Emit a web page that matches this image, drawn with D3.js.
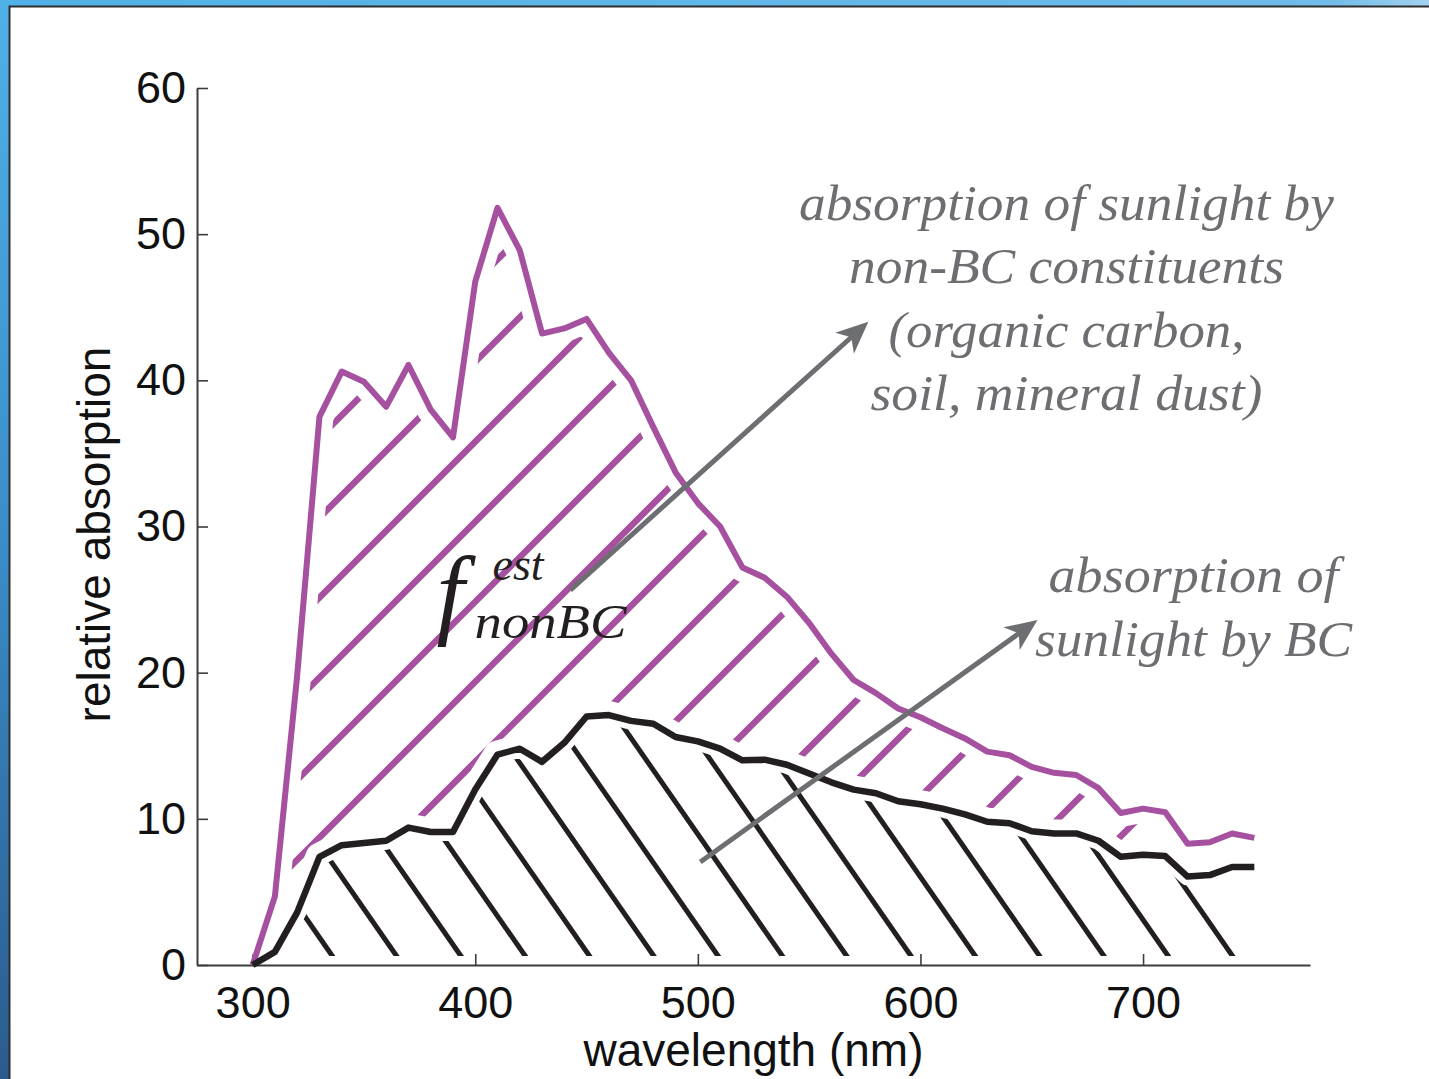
<!DOCTYPE html>
<html>
<head>
<meta charset="utf-8">
<script src="https://cdn.jsdelivr.net/npm/d3@7"></script>
<style>
  html, body { margin: 0; padding: 0; background: #fff; overflow: hidden; }
  svg { display: block; }
</style>
</head>
<body>
<div id="chart"></div>
<script>
const width = 1429;
const height = 1079;

// data (10 nm steps)
const wavelength = [300, 310, 320, 330, 340, 350, 360, 370, 380, 390,
                    400, 410, 420, 430, 440, 450, 460, 470, 480, 490,
                    500, 510, 520, 530, 540, 550, 560, 570, 580, 590,
                    600, 610, 620, 630, 640, 650, 660, 670, 680, 690,
                    700, 710, 720, 730, 740, 750];
// total absorption (purple)
const totalAbs = [0, 4.7, 19.8, 37.5, 40.6, 39.9, 38.2, 41.05, 38.0, 36.1,
                  46.75, 51.8, 48.9, 43.2, 43.55, 44.2, 41.9, 40.0, 36.8, 33.7,
                  31.6, 30.0, 27.2, 26.5, 25.2, 23.4, 21.3, 19.5, 18.6, 17.55,
                  16.95, 16.2, 15.5, 14.6, 14.35, 13.55, 13.15, 13.0, 12.1, 10.4,
                  10.7, 10.45, 8.3, 8.4, 9.0, 8.7];
// BC absorption (black)
const bcAbs = [0, 0.9, 3.6, 7.4, 8.2, 8.35, 8.5, 9.4, 9.1, 9.1,
               12.0, 14.4, 14.8, 13.9, 15.2, 17.0, 17.1, 16.7, 16.5, 15.6,
               15.3, 14.8, 14.0, 14.05, 13.7, 13.1, 12.5, 12.0, 11.75, 11.2,
               11.0, 10.7, 10.3, 9.8, 9.7, 9.15, 9.0, 9.0, 8.5, 7.4,
               7.55, 7.45, 6.05, 6.15, 6.7, 6.7];

const xTicks = [300, 400, 500, 600, 700];
const yTicks = [0, 10, 20, 30, 40, 50, 60];

const nonBcNote = ["absorption of sunlight by", "non-BC constituents", "(organic carbon,", "soil, mineral dust)"];
const nonBcNoteWidth = [535, 435, 356, 392];
const bcNote = ["absorption of", "sunlight by BC"];
const bcNoteWidth = [290, 317];

// annotation anchors in data units [wavelength, absorption]
const nonBcNoteAt = [665.6, 50.97];
const bcNoteAt = [722.7, 25.5];
const nonBcArrow = [[442.7, 25.65], [576.6, 44.0]];
const bcArrow = [[501.1, 7.05], [652.6, 23.6]];
const fLabelAt = [388, 22.9];

const purple = "#a6519f";
const ink = "#231f20";
const grey = "#6d6e71";

const svg = d3.select("#chart")
    .append("svg")
    .attr("width", width)
    .attr("height", height)
    .attr("viewBox", `0 0 ${width} ${height}`);

const defs = svg.append("defs");

// ---- frame (blue slide border)
const gLeft = defs.append("linearGradient").attr("id", "gLeft")
    .attr("x1", 0).attr("y1", 0).attr("x2", 0).attr("y2", 1);
gLeft.append("stop").attr("offset", 0).attr("stop-color", "#4fb1e6");
gLeft.append("stop").attr("offset", 0.5).attr("stop-color", "#3a8dc8");
gLeft.append("stop").attr("offset", 1).attr("stop-color", "#2b5b8e");
const gTop = defs.append("linearGradient").attr("id", "gTop")
    .attr("x1", 0).attr("y1", 0).attr("x2", 1).attr("y2", 0);
gTop.append("stop").attr("offset", 0).attr("stop-color", "#4fb1e6");
gTop.append("stop").attr("offset", 0.93).attr("stop-color", "#6fbbe9");
gTop.append("stop").attr("offset", 1).attr("stop-color", "#a3d2f0");

svg.append("rect").attr("width", width).attr("height", height).attr("fill", "#fff");
svg.append("rect").attr("x", 0).attr("y", 0).attr("width", 9).attr("height", height).attr("fill", "url(#gLeft)");
svg.append("rect").attr("x", 0).attr("y", 0).attr("width", width).attr("height", 6).attr("fill", "url(#gTop)");
svg.append("path").attr("d", `M9.5,${height} V6.5 H${width}`)
    .attr("fill", "none").attr("stroke", "#2e2e2e").attr("stroke-width", 2);

// ---- scales
const x = d3.scaleLinear().domain([275, 775]).range([197, 1310]);
const y = d3.scaleLinear().domain([0, 60]).range([965, 88]);

const rows = wavelength.map((w, i) => ({ w: w, tot: totalAbs[i], bc: bcAbs[i] }));

const lineTot = d3.line().x(d => x(d.w)).y(d => y(d.tot));
const lineBc = d3.line().x(d => x(d.w)).y(d => y(d.bc));
const areaBetween = d3.area().x(d => x(d.w)).y0(d => y(d.bc)).y1(d => y(d.tot));
const areaUnder = d3.area().x(d => x(d.w)).y0(y(0)).y1(d => y(d.bc));

// masks keep the hatching a little away from the curves
const mP = defs.append("mask").attr("id", "maskP").attr("maskUnits", "userSpaceOnUse")
    .attr("x", 0).attr("y", 0).attr("width", width).attr("height", height);
mP.append("path").attr("d", areaBetween(rows)).attr("fill", "#fff")
    .attr("stroke", "#000").attr("stroke-width", 28).attr("stroke-linejoin", "round");

const mB = defs.append("mask").attr("id", "maskB").attr("maskUnits", "userSpaceOnUse")
    .attr("x", 0).attr("y", 0).attr("width", width).attr("height", height);
mB.append("path").attr("d", areaUnder(rows)).attr("fill", "#fff")
    .attr("stroke", "#000").attr("stroke-width", 18).attr("stroke-linejoin", "round");

// purple hatching, 45 degrees
const pHatch = d3.range(-12, 15).map(k => 1157 + 80 * k);
svg.append("g").attr("mask", "url(#maskP)")
    .selectAll("line").data(pHatch).join("line")
    .attr("x1", 150).attr("y1", c => c - 150)
    .attr("x2", 1400).attr("y2", c => c - 1400)
    .attr("stroke", purple).attr("stroke-width", 6.5);

// black hatching, steep the other way
const bHatch = d3.range(0, 15).map(k => 333 + 64.3 * k);
svg.append("g").attr("mask", "url(#maskB)")
    .selectAll("line").data(bHatch).join("line")
    .attr("x1", b => b + (600 - 957) / 1.44).attr("y1", 600)
    .attr("x2", b => b + (1000 - 957) / 1.44).attr("y2", 1000)
    .attr("stroke", ink).attr("stroke-width", 5);

// ---- axes
const xAxis = d3.axisBottom(x).tickValues(xTicks).tickSize(-11).tickSizeOuter(0).tickPadding(21);
const yAxis = d3.axisLeft(y).tickValues(yTicks).tickSize(-11).tickSizeOuter(0).tickPadding(11);

const gx = svg.append("g").attr("transform", `translate(0,${y(0)})`).call(xAxis);
const gy = svg.append("g").attr("transform", `translate(${x(275)},0)`).call(yAxis);
[gx, gy].forEach(g => {
    g.select(".domain").attr("stroke", "#3c3c3c").attr("stroke-width", 2);
    g.selectAll(".tick line").attr("stroke", "#3c3c3c").attr("stroke-width", 1.6);
    g.selectAll(".tick text")
        .attr("fill", "#111")
        .style("font-family", "'Liberation Sans', Arial, sans-serif")
        .style("font-size", "45px");
});

svg.append("text")
    .attr("transform", `translate(110,${(y(0) + y(60)) / 2 + 8}) rotate(-90)`)
    .attr("text-anchor", "middle")
    .attr("fill", "#111")
    .style("font-family", "'Liberation Sans', Arial, sans-serif")
    .style("font-size", "46px")
    .text("relative absorption");

svg.append("text")
    .attr("x", (x(275) + x(775)) / 2)
    .attr("y", 1066)
    .attr("text-anchor", "middle")
    .attr("fill", "#111")
    .style("font-family", "'Liberation Sans', Arial, sans-serif")
    .style("font-size", "46px")
    .text("wavelength (nm)");

// ---- curves
svg.append("path").attr("d", lineTot(rows))
    .attr("fill", "none").attr("stroke", purple).attr("stroke-width", 6)
    .attr("stroke-linejoin", "round");
svg.append("path").attr("d", lineBc(rows))
    .attr("fill", "none").attr("stroke", ink).attr("stroke-width", 6.5)
    .attr("stroke-linejoin", "round");

// ---- arrows
function drawArrow(pts) {
    const x1 = x(pts[0][0]), y1 = y(pts[0][1]);
    const x2 = x(pts[1][0]), y2 = y(pts[1][1]);
    const ang = Math.atan2(y2 - y1, x2 - x1) * 180 / Math.PI;
    const len = Math.hypot(x2 - x1, y2 - y1);
    const g = svg.append("g").attr("transform", `translate(${x1},${y1}) rotate(${ang})`);
    g.append("line").attr("x1", 0).attr("y1", 0).attr("x2", len - 20).attr("y2", 0)
        .attr("stroke", grey).attr("stroke-width", 5);
    g.append("path")
        .attr("d", `M${len},0 L${len - 32},-14 L${len - 23},0 L${len - 32},14 Z`)
        .attr("fill", grey);
}
drawArrow(nonBcArrow);
drawArrow(bcArrow);

// ---- notes
function drawNote(lines, widths, at) {
    const t = svg.append("text")
        .attr("text-anchor", "middle")
        .attr("fill", grey)
        .style("font-family", "'Liberation Serif', 'Times New Roman', serif")
        .style("font-style", "italic")
        .style("font-size", "50px");
    t.selectAll("tspan").data(lines).join("tspan")
        .attr("x", x(at[0]))
        .attr("y", (d, i) => y(at[1]) + i * 63.5)
        .attr("textLength", (d, i) => widths[i])
        .attr("lengthAdjust", "spacingAndGlyphs")
        .text(d => d);
}
drawNote(nonBcNote, nonBcNoteWidth, nonBcNoteAt);
drawNote(bcNote, bcNoteWidth, bcNoteAt);

// f_nonBC^est label
const fx = x(fLabelAt[0]), fy = y(fLabelAt[1]);
const serif = "'Liberation Serif', 'Times New Roman', serif";
svg.append("text").attr("x", fx - 12).attr("y", fy - 4)
    .attr("fill", ink).style("font-family", serif).style("font-style", "italic")
    .style("font-size", "100px").text("f");
svg.append("text").attr("x", fx + 44).attr("y", fy - 50)
    .attr("fill", ink).style("font-family", serif).style("font-style", "italic")
    .style("font-size", "46px").text("est");
svg.append("text").attr("x", fx + 26).attr("y", fy + 8)
    .attr("fill", ink).style("font-family", serif).style("font-style", "italic")
    .attr("textLength", 152).attr("lengthAdjust", "spacingAndGlyphs")
    .style("font-size", "48px").text("nonBC");
</script>
</body>
</html>
